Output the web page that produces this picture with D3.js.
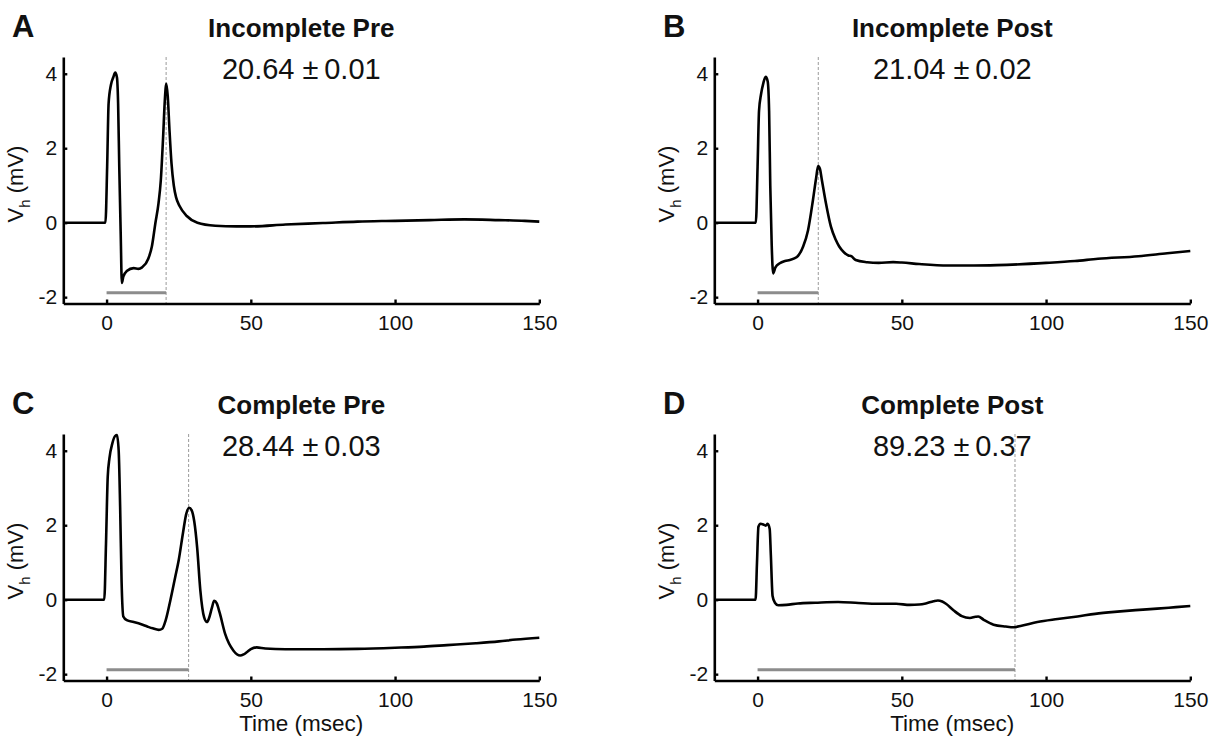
<!DOCTYPE html>
<html><head><meta charset="utf-8">
<script src="https://cdn.jsdelivr.net/npm/d3@7"></script>
<style>
body{margin:0;background:#fff}
svg{display:block}
text{font-family:"Liberation Sans",Arial,Helvetica,sans-serif;fill:#111}
</style>
</head><body>
<svg id="chart" width="1225" height="740"></svg>
<script>
// ---- data ----
const panelLetters = ["A", "B", "C", "D"];
const panelTitles = ["Incomplete Pre", "Incomplete Post", "Complete Pre", "Complete Post"];
const panelStats = ["20.64 \u00B1\u20090.01", "21.04 \u00B1\u20090.02", "28.44 \u00B1\u20090.03", "89.23 \u00B1\u20090.37"];
const markerTimes = [20.64, 21.04, 28.44, 89.23];
const xTicks = [0, 50, 100, 150];
const yTicks = [-2, 0, 2, 4];
const xLabel = "Time (msec)";

const timeA = [-15,-0.4,0.2,0.7,1.5,2.3,3.0,3.6,4.0,4.4,4.9,5.3,5.8,7,9.4,11,12.3,14.5,15.7,16.9,18,18.8,19.6,20.2,20.7,21.2,21.8,22.5,23.3,24.1,25.3,27.8,31.5,37.7,45,50,62,75,87,100,112,124,136,145,150];
const voltA = [0,0,1.5,3.2,3.7,3.9,4.03,3.9,3.2,1.5,-0.3,-1.62,-1.45,-1.3,-1.22,-1.24,-1.2,-0.96,-0.64,-0.02,0.52,1.14,2.3,3.3,3.73,3.4,2.5,1.6,1.0,0.68,0.45,0.18,0.0,-0.08,-0.1,-0.1,-0.05,-0.01,0.03,0.05,0.07,0.09,0.07,0.05,0.03];

const timeB = [-15,-0.6,0,0.5,1.2,2,2.8,3.5,4.0,4.4,4.9,5.4,6.2,7.7,9.5,11.2,13.5,15.8,17.5,19.2,20.3,21,21.6,22.3,23.7,25.4,27.1,28.3,30,31.5,32.5,34,38,42,47,50,56,66,75,83,100,110,118,132,142,150];
const voltB = [0,0,1.5,3.0,3.45,3.75,3.92,3.8,3.0,1.0,-0.6,-1.36,-1.2,-1.09,-1.03,-1.0,-0.93,-0.64,-0.2,0.61,1.2,1.52,1.45,1.14,0.52,-0.1,-0.46,-0.64,-0.8,-0.88,-0.9,-1.0,-1.06,-1.08,-1.06,-1.07,-1.11,-1.15,-1.15,-1.14,-1.08,-1.03,-0.97,-0.9,-0.82,-0.76];

const timeC = [-15,-0.8,-0.2,0.4,1,2,3,3.6,4.2,4.7,5.2,5.8,7,9.4,12,14.1,16,18.1,19.3,20.5,22.1,23.8,25,26.5,27.6,28.6,29.5,30.4,31.4,32.5,33.8,34.8,35.5,36.5,37.3,38.2,39.2,41.1,44,46.3,47.5,48.6,50,52,55,62,75,87,100,110,118,128,136,142,150];
const voltC = [0,0,1.5,3.3,3.8,4.2,4.4,4.42,4.0,2.5,0.5,-0.45,-0.55,-0.6,-0.66,-0.72,-0.77,-0.81,-0.78,-0.55,-0.02,0.61,1.06,1.8,2.3,2.47,2.4,2.1,1.4,0.25,-0.47,-0.6,-0.5,-0.22,-0.03,-0.1,-0.35,-0.92,-1.37,-1.5,-1.47,-1.41,-1.33,-1.28,-1.31,-1.33,-1.33,-1.32,-1.29,-1.26,-1.22,-1.17,-1.12,-1.07,-1.02];

const timeD = [-15,-0.7,-0.2,0.3,1,2,2.8,3.5,4.2,4.6,5.2,6,7.2,10,14,20,27.9,35,41.8,48,52.8,56,58.3,61,62.5,64,65.3,68,70.8,73.6,75.5,76.5,78.4,81.8,86,88.8,91.5,97,104,110.9,117,124.7,131,138.5,145,150];
const voltD = [0,0,1.0,1.96,2.04,2.02,1.99,2.04,1.9,1.2,0.1,-0.08,-0.15,-0.14,-0.1,-0.08,-0.06,-0.09,-0.11,-0.11,-0.14,-0.13,-0.1,-0.04,-0.02,-0.05,-0.11,-0.29,-0.44,-0.49,-0.46,-0.45,-0.54,-0.67,-0.72,-0.74,-0.7,-0.6,-0.52,-0.45,-0.38,-0.32,-0.28,-0.24,-0.2,-0.17];

const times = [timeA, timeB, timeC, timeD];
const volts = [voltA, voltB, voltC, voltD];

// ---- layout ----
const colX = [0, 651];
const rowY = [0, 377];
const box = {left: 63.3, right: 539.3, top: 57, bottom: 303.5};
const xDomain = [-15, 150];
const yDomain = [-2.17, 4.45];
const barLevel = -1.88;

const svg = d3.select("#chart");
svg.append("rect").attr("width", 1225).attr("height", 740).attr("fill", "#fff");

panelLetters.forEach((letter, i) => {
  const ox = colX[i % 2], oy = rowY[Math.floor(i / 2)];
  const g = svg.append("g").attr("transform", `translate(${ox},${oy})`);
  const x = d3.scaleLinear().domain(xDomain).range([box.left, box.right]);
  const y = d3.scaleLinear().domain(yDomain).range([box.bottom, box.top]);
  const cx = (box.left + box.right) / 2;

  // letter, title, stat
  g.append("text").attr("x", 12).attr("y", 37).attr("font-size", 31).attr("font-weight", "bold").text(letter);
  g.append("text").attr("x", cx).attr("y", 37).attr("text-anchor", "middle")
    .attr("font-size", 26).attr("font-weight", "bold").text(panelTitles[i]);
  g.append("text").attr("x", cx).attr("y", 79).attr("text-anchor", "middle")
    .attr("font-size", 29).text(panelStats[i]);

  // dashed marker line
  g.append("line").attr("x1", x(markerTimes[i])).attr("x2", x(markerTimes[i]))
    .attr("y1", box.top).attr("y2", box.bottom)
    .attr("stroke", "#9a9a9a").attr("stroke-width", 1).attr("stroke-dasharray", "3,2");
  // gray bar
  g.append("line").attr("x1", x(0)).attr("x2", x(markerTimes[i]))
    .attr("y1", y(barLevel)).attr("y2", y(barLevel))
    .attr("stroke", "#8c8c8c").attr("stroke-width", 3);

  // trace
  const pts = times[i].map((t, k) => [t, volts[i][k]]);
  g.append("path").datum(pts)
    .attr("fill", "none").attr("stroke", "#000").attr("stroke-width", 2.6)
    .attr("stroke-linejoin", "round")
    .attr("d", d3.line().x(d => x(d[0])).y(d => y(d[1])).curve(d3.curveMonotoneX));

  // axes
  const xa = g.append("g").attr("transform", `translate(0,${box.bottom})`)
    .call(d3.axisBottom(x).tickValues(xTicks).tickFormat(d3.format("d"))
      .tickSizeInner(-4).tickSizeOuter(0).tickPadding(12));
  const ya = g.append("g").attr("transform", `translate(${box.left},0)`)
    .call(d3.axisLeft(y).tickValues(yTicks).tickFormat(d3.format("d"))
      .tickSizeInner(-4).tickSizeOuter(0).tickPadding(6));
  [xa, ya].forEach(a => {
    a.select(".domain").attr("stroke", "#000").attr("stroke-width", 2.6);
    a.selectAll(".tick line").attr("stroke", "#000").attr("stroke-width", 2.4);
    a.selectAll(".tick text").attr("font-size", 21).attr("fill", "#111")
      .attr("font-family", "'Liberation Sans',Arial,sans-serif");
  });
  ya.selectAll(".tick text").text(d => d < 0 ? "-" + Math.abs(d) : d);

  // y label
  const yl = g.append("text").attr("transform", `translate(23,184) rotate(-90)`)
    .attr("text-anchor", "middle").attr("font-size", 22);
  yl.append("tspan").text("V");
  yl.append("tspan").attr("font-size", 15).attr("dy", 7).text("h");
  yl.append("tspan").attr("dy", -7).text(" (mV)");

  if (i >= 2) {
    g.append("text").attr("x", cx).attr("y", 731 - oy).attr("text-anchor", "middle")
      .attr("font-size", 22.5).text(xLabel);
  }
});
</script>
</body></html>
